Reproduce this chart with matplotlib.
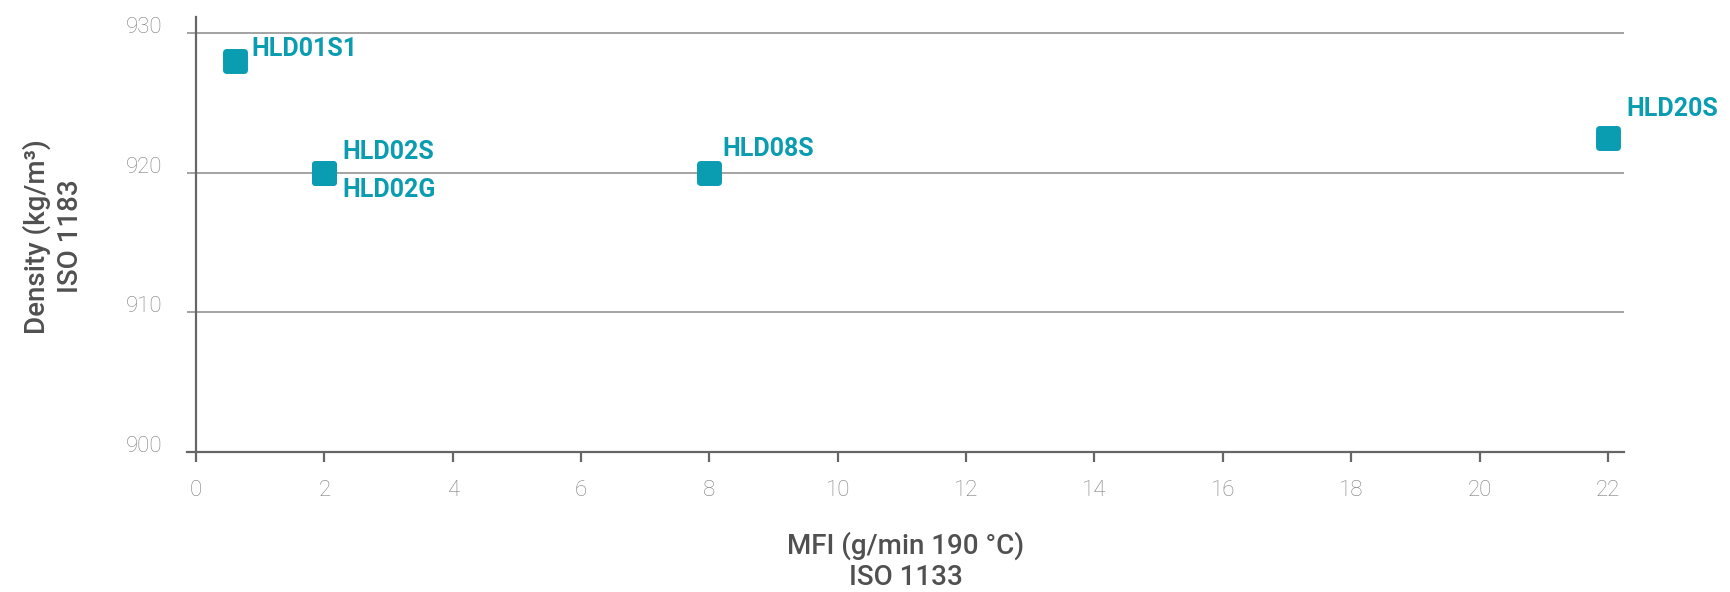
import matplotlib.pyplot as plt
from matplotlib.markers import MarkerStyle

# grades: MFI (g/10min 190 C) vs density
names = ['HLD01S1', 'HLD02S', 'HLD02G', 'HLD08S', 'HLD20S']
mfi = [0.6, 2, 2, 8, 22]
density = [928, 920, 920, 920, 922.5]
# label offsets in points (dx, dy)
offsets = [(12, 9), (13, 15), (13, -12), (9, 17), (13, 21)]

x_ticks = list(range(0, 23, 2))
y_ticks = [900, 910, 920, 930]

teal = '#0a9cb0'
grey = '#666666'

plt.rcParams['font.family'] = ['Roboto', 'DejaVu Sans']

fig = plt.figure(figsize=(17.3, 5.92), dpi=100)
ax = fig.add_axes([0.1081, 0.2365, 0.8306, 0.7355])

ax.set_xlim(-0.14, 22.25)
ax.set_ylim(900, 931.2)

for y in y_ticks[1:]:
    ax.axhline(y, xmin=0, xmax=1, color='#8a8a8a', lw=1.1, zorder=1)

m = MarkerStyle('s', joinstyle='round')
ax.scatter(mfi, density, s=150, marker=m, color=teal, edgecolor=teal,
           linewidths=5, zorder=3)

for n, x, y, (dx, dy) in zip(names, mfi, density, offsets):
    ax.annotate(n, (x, y), xytext=(dx, dy), textcoords='offset points',
                ha='left', va='center', color=teal, fontsize=18,
                fontweight='bold', zorder=4)

for s in ['top', 'right']:
    ax.spines[s].set_visible(False)
ax.spines['left'].set_position(('data', 0))
ax.spines['left'].set_color(grey)
ax.spines['bottom'].set_color(grey)
ax.spines['left'].set_linewidth(1.6)
ax.spines['bottom'].set_linewidth(1.6)

ax.set_xticks(x_ticks)
ax.set_yticks(y_ticks)
ax.tick_params(axis='x', direction='out', length=7, width=1.6, color=grey,
               pad=13, labelsize=16, labelcolor='#7f7f7f')
ax.tick_params(axis='y', length=0, pad=24, labelsize=16, labelcolor='#7f7f7f')
for lab in ax.get_xticklabels() + ax.get_yticklabels():
    lab.set_fontweight('light')
for lab in ax.get_yticklabels():
    lab.set_va('baseline')

ax.set_xlabel('MFI (g/min 190 °C)\nISO 1133', fontsize=20, color='#505050',
              fontweight='medium', labelpad=22, linespacing=1.2)
ax.set_ylabel('Density (kg/m³)\nISO 1183', fontsize=20, color='#505050',
              fontweight='medium', linespacing=1.25)
ax.yaxis.set_label_coords(-0.072, 0.495)

fig.savefig('out.png', dpi=100)
